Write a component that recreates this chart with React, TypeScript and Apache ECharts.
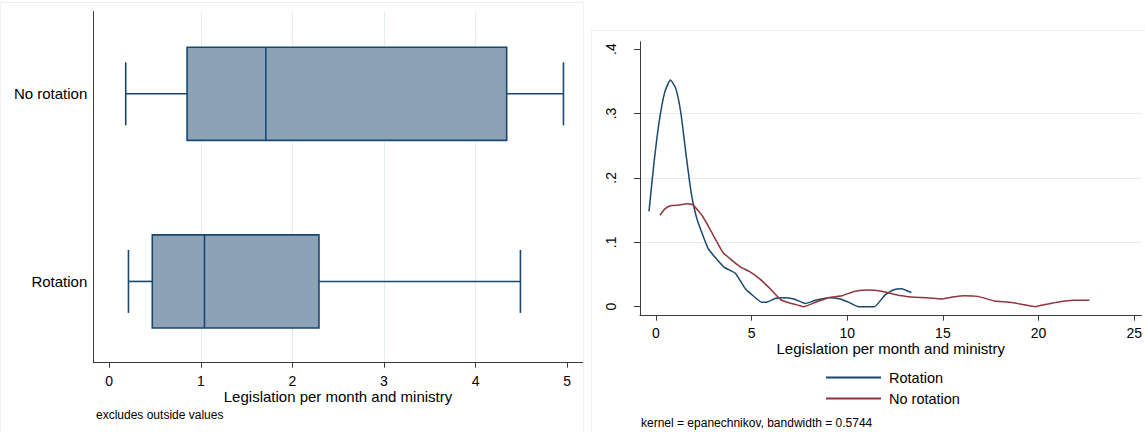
import React, { useEffect, useRef } from "react";
import * as echarts from "echarts";

// Box plot (legislation per month and ministry)
const categories = ["Rotation", "No rotation"];
const lowerWhisker = [0.21, 0.18];
const q1 = [0.47, 0.85];
const median = [1.04, 1.71];
const q3 = [2.29, 4.34];
const upperWhisker = [4.49, 4.96];
const boxTicks = [0, 1, 2, 3, 4, 5];

// Kernel density estimates [x, density]
const rotationDensity = [
  [-0.36, 0.148], [-0.1, 0.223], [0.17, 0.287], [0.47, 0.334], [0.76, 0.352],
  [1.04, 0.339], [1.31, 0.3], [1.59, 0.233], [1.85, 0.176], [2.16, 0.135],
  [2.72, 0.091], [3.06, 0.078], [3.58, 0.061], [4.15, 0.052], [4.7, 0.027],
  [5.08, 0.017], [5.53, 0.007], [5.78, 0.007], [6.26, 0.013], [6.69, 0.014],
  [7.21, 0.012], [7.82, 0.005], [8.34, 0.01], [9.03, 0.014], [9.64, 0.012],
  [10.07, 0.007], [10.59, 0.0], [11.42, 0.0], [11.97, 0.018], [12.4, 0.026],
  [12.83, 0.028], [13.35, 0.022],
];
const noRotationDensity = [
  [0.21, 0.142], [0.47, 0.152], [0.81, 0.157], [1.25, 0.158], [1.59, 0.16],
  [1.94, 0.158], [2.45, 0.14], [2.89, 0.117], [3.49, 0.085], [3.93, 0.073],
  [4.45, 0.061], [4.88, 0.055], [5.4, 0.044], [6.0, 0.027], [6.52, 0.011],
  [6.95, 0.006], [7.47, 0.002], [7.73, 0.0], [8.34, 0.007], [9.03, 0.014],
  [9.72, 0.017], [10.41, 0.024], [11.1, 0.026], [11.8, 0.024], [12.49, 0.019],
  [13.35, 0.015], [14.2, 0.014], [14.91, 0.012], [15.5, 0.015], [16.12, 0.017],
  [16.82, 0.016], [17.68, 0.009], [18.54, 0.007], [19.24, 0.003], [19.84, 0.0],
  [20.27, 0.003], [20.97, 0.007], [21.83, 0.01], [22.66, 0.01],
];
const densityXTicks = [0, 5, 10, 15, 20, 25];
const densityYTicks = [0, 0.1, 0.2, 0.3, 0.4];

const FONT = "Liberation Sans, Arial, sans-serif";
const AXIS = "#3a3a3a";
const GRIDC = "#e3edf0";
const NAVY = "#1a476f";
const BOXFILL = "#8ca3b7";
const MAROON = "#90353b";

export default function App() {
  const ref = useRef<HTMLDivElement>(null);
  useEffect(() => {
    if (!ref.current) return;
    const chart = echarts.init(ref.current, null, { renderer: "svg" });
    const boxData = categories.map((_, i) => [
      i, lowerWhisker[i], q1[i], median[i], q3[i], upperWhisker[i],
    ]);
    const option: any = {
      animation: false,
      textStyle: { fontFamily: FONT },
      graphic: [
        { type: "rect", shape: { x: 0.5, y: 2.5, width: 583, height: 440 }, style: { fill: "none", stroke: "#f0f0f0", lineWidth: 1 }, silent: true, z: -10 },
        { type: "rect", shape: { x: 591.5, y: 30.5, width: 600, height: 440 }, style: { fill: "none", stroke: "#f0f0f0", lineWidth: 1 }, silent: true, z: -10 },
      ],
      title: [
        { text: "excludes outside values", left: 96, top: 409, padding: 0, textStyle: { fontSize: 12, fontWeight: "normal", color: "#000", fontFamily: FONT } },
        { text: "kernel = epanechnikov, bandwidth = 0.5744", left: 641, top: 417, padding: 0, textStyle: { fontSize: 12, fontWeight: "normal", color: "#000", fontFamily: FONT } },
      ],
      legend: {
        orient: "vertical",
        left: 825,
        top: 370,
        itemWidth: 55,
        itemHeight: 14,
        itemGap: 6,
        padding: 0,
        data: ["Rotation", "No rotation"],
        itemStyle: { opacity: 0 },
        textStyle: { fontSize: 14.5, color: "#000", fontFamily: FONT, padding: [0, 0, 0, 3] },
      },
      grid: [
        { left: 93.3, top: 11.7, width: 489.4, height: 351 },
        { left: 93.3, top: -1.75, width: 489.4, height: 377 },
        { left: 640, top: 41.7, right: 0, height: 274 },
      ],
      xAxis: [
        {
          gridIndex: 0, type: "value", min: -0.174, max: 5.17,
          name: "Legislation per month and ministry", nameLocation: "middle", nameGap: 26,
          nameMoveOverlap: false,
          nameTextStyle: { fontSize: 15, color: "#000", fontFamily: FONT },
          axisLine: { show: true, onZero: false, lineStyle: { color: AXIS, width: 1 } },
          axisTick: { show: true, length: 5, customValues: boxTicks, lineStyle: { color: AXIS } },
          axisLabel: { customValues: boxTicks, fontSize: 14, color: "#000", margin: 11, fontFamily: FONT,
            formatter: (v: number) => (Number.isInteger(v) ? String(v) : "") },
          splitLine: { show: true, showMinLine: false, showMaxLine: false, lineStyle: { color: GRIDC, width: 1 } },
        },
        {
          gridIndex: 1, type: "value", min: -0.174, max: 5.17, show: false,
          splitLine: { show: false },
        },
        {
          gridIndex: 2, type: "value", min: -0.83, max: 25.38,
          name: "Legislation per month and ministry", nameLocation: "middle", nameGap: 25,
          nameMoveOverlap: false,
          nameTextStyle: { fontSize: 15, color: "#000", fontFamily: FONT },
          axisLine: { show: true, onZero: false, lineStyle: { color: AXIS, width: 1 } },
          axisTick: { show: true, length: 5, customValues: densityXTicks, lineStyle: { color: AXIS } },
          axisLabel: { customValues: densityXTicks, fontSize: 14, color: "#000", margin: 10, fontFamily: FONT,
            formatter: (v: number) => (Number.isInteger(v) ? String(v) : "") },
          splitLine: { show: false },
        },
      ],
      yAxis: [
        {
          gridIndex: 0, type: "value", min: 0, max: 1,
          axisLine: { show: true, onZero: false, lineStyle: { color: AXIS, width: 1 } },
          axisTick: { show: false }, axisLabel: { show: false }, splitLine: { show: false },
        },
        {
          gridIndex: 1, type: "category", data: categories,
          axisLine: { show: false, onZero: false }, axisTick: { show: false },
          axisLabel: { fontSize: 15, color: "#000", margin: 6, fontFamily: FONT },
          splitLine: { show: false },
        },
        {
          gridIndex: 2, type: "value", min: -0.014, max: 0.4115,
          axisLine: { show: true, onZero: false, lineStyle: { color: AXIS, width: 1 } },
          axisTick: { show: true, length: 6, customValues: densityYTicks, lineStyle: { color: AXIS } },
          axisLabel: {
            customValues: densityYTicks, fontSize: 14, color: "#000", margin: 22, rotate: 90, fontFamily: FONT,
            formatter: (v: number) => {
              if (Math.abs(v) < 1e-9) return "0";
              const s = v.toFixed(1);
              return s.startsWith("0") ? s.slice(1) : s;
            },
          },
          splitLine: { show: true, showMinLine: false, showMaxLine: false, lineStyle: { color: GRIDC, width: 1 } },
        },
      ],
      series: [
        {
          name: "box",
          type: "custom",
          xAxisIndex: 1,
          yAxisIndex: 1,
          encode: { x: [1, 2, 3, 4, 5], y: 0 },
          data: boxData,
          renderItem: (params: any, api: any) => {
            const cat = api.value(0);
            const pLw = api.coord([api.value(1), cat]);
            const pA = api.coord([api.value(2), cat]);
            const pM = api.coord([api.value(3), cat]);
            const pB = api.coord([api.value(4), cat]);
            const pUw = api.coord([api.value(5), cat]);
            const band = api.size([0, 1])[1];
            const bh = band * 0.4966;
            const ch = band * 0.336;
            const cy = pA[1];
            const ls = { stroke: NAVY, lineWidth: 1.6, fill: "none" };
            return {
              type: "group",
              children: [
                { type: "line", shape: { x1: pLw[0], y1: cy, x2: pA[0], y2: cy }, style: ls },
                { type: "line", shape: { x1: pB[0], y1: cy, x2: pUw[0], y2: cy }, style: ls },
                { type: "line", shape: { x1: pLw[0], y1: cy - ch / 2, x2: pLw[0], y2: cy + ch / 2 }, style: ls },
                { type: "line", shape: { x1: pUw[0], y1: cy - ch / 2, x2: pUw[0], y2: cy + ch / 2 }, style: ls },
                { type: "rect", shape: { x: pA[0], y: cy - bh / 2, width: pB[0] - pA[0], height: bh }, style: { fill: BOXFILL, stroke: NAVY, lineWidth: 1.6 } },
                { type: "line", shape: { x1: pM[0], y1: cy - bh / 2, x2: pM[0], y2: cy + bh / 2 }, style: ls },
              ],
            };
          },
        },
        {
          name: "Rotation",
          type: "line",
          xAxisIndex: 2,
          yAxisIndex: 2,
          data: rotationDensity,
          symbol: "none",
          smooth: 0.15,
          color: NAVY,
          lineStyle: { color: NAVY, width: 1.5 },
        },
        {
          name: "No rotation",
          type: "line",
          xAxisIndex: 2,
          yAxisIndex: 2,
          data: noRotationDensity,
          symbol: "none",
          smooth: 0.15,
          color: MAROON,
          lineStyle: { color: MAROON, width: 1.5 },
        },
      ],
    };
    chart.setOption(option);
    return () => chart.dispose();
  }, []);
  return (
    <div
      ref={ref}
      style={{ position: "absolute", left: 0, top: 0, width: 1145, height: 432, background: "#fff" }}
    />
  );
}
